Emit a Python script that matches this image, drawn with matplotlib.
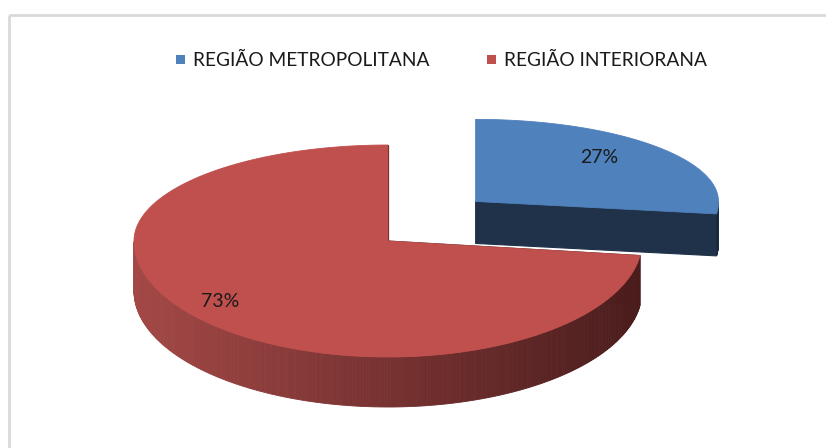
import matplotlib.pyplot as plt
import numpy as np
from matplotlib.patches import Polygon, Rectangle
from matplotlib.colors import to_rgb

plt.rcParams['font.family'] = ['Lato', 'DejaVu Sans']

# data
labels = ['REGIÃO METROPOLITANA', 'REGIÃO INTERIORANA']
values = [27, 73]
explode = [0.46, 0.0]

# colours
top_colors = ['#4f81bd', '#c0504d']
face_colors = ['#1f3249', '#4a1c1c']
side_light = ['#2a4466', '#a34846']
side_dark = ['#1a2a3f', '#4a1c1c']

# layout (pixels)
W, H = 826, 448
cx, cy = 388, 241
rx, ry_back, ry_front = 254, 96, 116
ry_explode = 130
thick = 50
# exploded (farther back) slices look a bit smaller
back_sx, back_sy, back_thick = 0.956, 0.855, 42
label_r = [0.68, 0.88]
label_dy = -7

fig = plt.figure(figsize=(W / 100, H / 100), dpi=100)
ax = fig.add_axes([0, 0, 1, 1])
ax.set_xlim(0, W)
ax.set_ylim(H, 0)
ax.axis('off')


def proj(theta, r, ox, oy, sx=1.0, sy=1.0):
    t = np.radians(theta)
    s = np.sin(t)
    ry = np.where(s > 0, ry_back, ry_front)
    return ox + r * sx * rx * np.cos(t), oy - r * sy * ry * s


total = sum(values)
start = 90.0
for i, v in enumerate(values):
    sweep = 360.0 * v / total
    a0, a1 = start, start - sweep
    start = a1
    mid = (a0 + a1) / 2
    m = np.radians(mid)
    ox = cx + explode[i] * rx * np.cos(m)
    oy = cy - explode[i] * ry_explode * np.sin(m)
    if explode[i] > 0:
        sx, sy, th = back_sx, back_sy, back_thick
    else:
        sx, sy, th = 1.0, 1.0, thick

    # radial faces
    for a in (a0, a1):
        x1, y1 = proj(a, 1, ox, oy, sx, sy)
        quad = [(ox, oy), (x1, y1), (x1, y1 + th), (ox, oy + th)]
        ax.add_patch(Polygon(quad, closed=True, facecolor=face_colors[i],
                             edgecolor=face_colors[i], lw=0.8))
    # curved front wall, shaded light to dark from left to right
    angs = np.linspace(a0, a1, 400)
    front = angs[np.sin(np.radians(angs)) < 0]
    if len(front) > 1:
        xs, ys = proj(front, 1, ox, oy, sx, sy)
        lo, hi = cx - rx, cx + rx
        c0, c1 = np.array(to_rgb(side_light[i])), np.array(to_rgb(side_dark[i]))
        for k in range(len(front) - 1):
            f = np.clip(((xs[k] + xs[k + 1]) / 2 - lo) / (hi - lo), 0, 1)
            col = c0 + (c1 - c0) * f
            strip = [(xs[k], ys[k]), (xs[k + 1], ys[k + 1]),
                     (xs[k + 1], ys[k + 1] + th), (xs[k], ys[k] + th)]
            ax.add_patch(Polygon(strip, closed=True, facecolor=col,
                                 edgecolor=col, lw=0.6))
    # top face
    xs, ys = proj(angs, 1, ox, oy, sx, sy)
    pts = [(ox, oy)] + list(zip(xs, ys))
    ax.add_patch(Polygon(pts, closed=True, facecolor=top_colors[i],
                         edgecolor=top_colors[i], lw=0.6))
    # percentage label
    lx, ly = proj(mid, label_r[i], ox, oy, sx, sy)
    ax.text(lx, ly + label_dy, f'{values[i]}%', ha='center', va='center',
            fontsize=14, color='#1a1a1a')

# chart area border (top and left visible)
ax.plot([9, W], [15, 15], color='#d9d9d9', lw=2, solid_capstyle='butt')
ax.plot([9, 9], [15, H], color='#d9d9d9', lw=2, solid_capstyle='butt')

# legend
leg_x = [176, 487]
for i, lab in enumerate(labels):
    ax.add_patch(Rectangle((leg_x[i], 55), 9, 9, facecolor=top_colors[i],
                           edgecolor='none'))
    ax.text(leg_x[i] + 17, 60.5, lab, ha='left', va='center', fontsize=13.8,
            color='#1a1a1a')

fig.savefig('out.png', dpi=100)
